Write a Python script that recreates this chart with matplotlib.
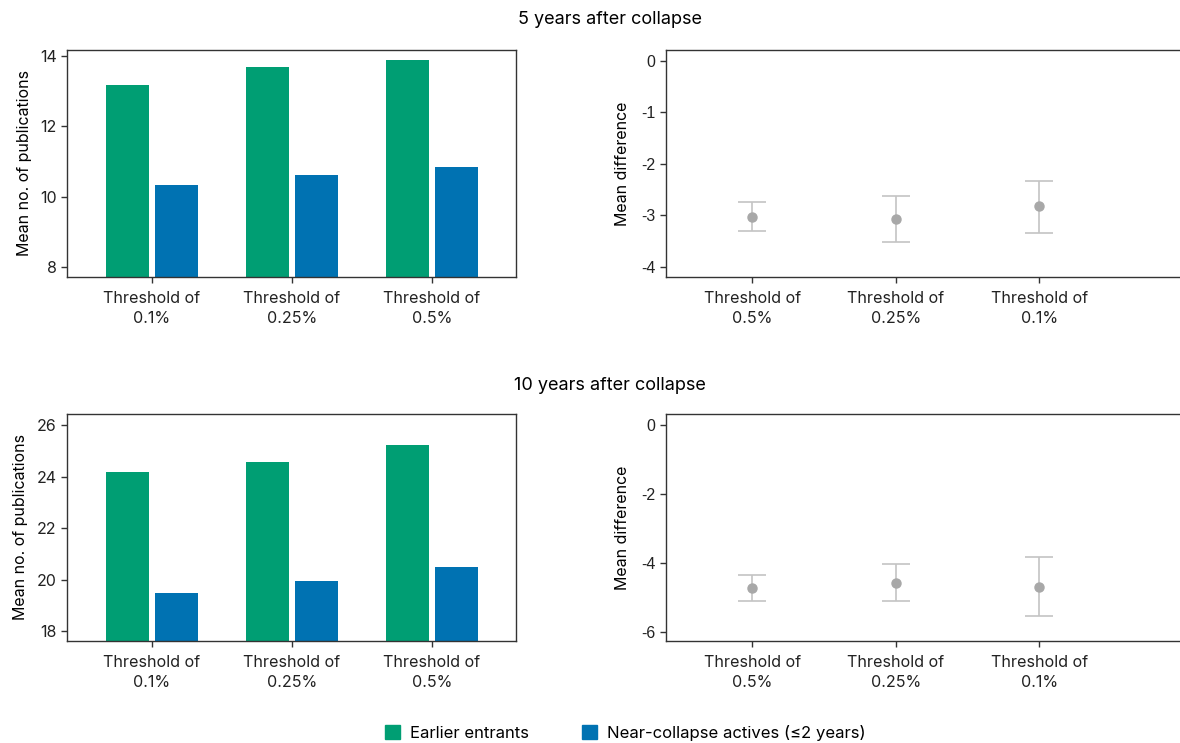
import matplotlib.pyplot as plt
from matplotlib.patches import Patch
import numpy as np

bar_labels = ['Threshold of\n0.1%', 'Threshold of\n0.25%', 'Threshold of\n0.5%']
diff_labels = ['Threshold of\n0.5%', 'Threshold of\n0.25%', 'Threshold of\n0.1%']

# 5 years after collapse
earlier_5 = [13.18, 13.69, 13.89]
near_5 = [10.34, 10.62, 10.85]
diff_5 = [-3.03, -3.07, -2.83]
diff_5_hi = [-2.74, -2.62, -2.34]
diff_5_lo = [-3.31, -3.52, -3.34]

# 10 years after collapse
earlier_10 = [24.18, 24.57, 25.23]
near_10 = [19.47, 19.94, 20.49]
diff_10 = [-4.73, -4.56, -4.68]
diff_10_hi = [-4.34, -4.03, -3.83]
diff_10_lo = [-5.10, -5.08, -5.53]

GREEN = '#009E73'
BLUE = '#0072B2'
SPINE = '#333333'

plt.rcParams['font.family'] = ['Inter', 'DejaVu Sans']
plt.rcParams['font.size'] = 11.5

fig = plt.figure(figsize=(11.8, 7.43), dpi=100)


def style(ax):
    for s in ax.spines.values():
        s.set_color(SPINE)
        s.set_linewidth(1.0)
    ax.tick_params(axis='both', colors=SPINE, labelcolor='#222222', length=4, width=1)
    ax.tick_params(axis='x', pad=6)
    for t in ax.get_xticklabels():
        t.set_linespacing(1.45)
        t.set_fontsize(11.6)


def bars(ax, g, b, yl, yt):
    x = np.arange(len(g))
    w = 0.307
    ax.bar(x - 0.175, g, w, color=GREEN, zorder=2)
    ax.bar(x + 0.175, b, w, color=BLUE, zorder=2)
    ax.set_xlim(-0.607, 2.6)
    ax.set_ylim(*yl)
    ax.set_yticks(yt)
    ax.set_xticks(x)
    ax.set_xticklabels(bar_labels)
    ax.set_ylabel('Mean no. of publications', labelpad=6)
    style(ax)


def diffs(ax, m, hi, lo, yl, yt):
    x = np.arange(len(m))
    m = np.array(m)
    err = [m - np.array(lo), np.array(hi) - m]
    ax.errorbar(x, m, yerr=err, fmt='o', color='#a8a8a8', ecolor='#c4c4c4',
                elinewidth=1.2, capsize=10, capthick=1.2, markersize=6.5)
    ax.set_xlim(-0.6, 2.98)
    ax.set_ylim(*yl)
    ax.set_yticks(yt)
    ax.set_yticklabels([str(int(v)) for v in yt], family=['Liberation Sans', 'DejaVu Sans'])
    ax.set_xticks(x)
    ax.set_xticklabels(diff_labels)
    ax.set_ylabel('Mean difference', labelpad=8)
    style(ax)
    ax.spines['right'].set_visible(False)


ax1 = fig.add_axes([0.0568, 0.6272, 0.3805, 0.3055])
bars(ax1, earlier_5, near_5, (7.72, 14.17), [8, 10, 12, 14])
ax2 = fig.add_axes([0.5644, 0.6272, 0.4356, 0.3055])
diffs(ax2, diff_5, diff_5_hi, diff_5_lo, (-4.2, 0.21), [-4, -3, -2, -1, 0])

ax3 = fig.add_axes([0.0568, 0.1373, 0.3805, 0.3055])
bars(ax3, earlier_10, near_10, (17.61, 26.44), [18, 20, 22, 24, 26])
ax4 = fig.add_axes([0.5644, 0.1373, 0.4356, 0.3055])
diffs(ax4, diff_10, diff_10_hi, diff_10_lo, (-6.25, 0.32), [-6, -4, -2, 0])

fig.text(0.517, 1 - 20 / 743, '5 years after collapse', ha='center', va='center', fontsize=13)
fig.text(0.517, 1 - 385 / 743, '10 years after collapse', ha='center', va='center', fontsize=13)

handles = [Patch(color=GREEN, label='Earlier entrants'),
           Patch(color=BLUE, label='Near-collapse actives (≤2 years)')]
fig.legend(handles=handles, loc='center', bbox_to_anchor=(0.53, 1 - 733 / 743), ncol=2,
           frameon=False, handlelength=0.9, handleheight=0.9, handletextpad=0.6,
           columnspacing=3.2, fontsize=12)

fig.savefig('out.png', dpi=100)
